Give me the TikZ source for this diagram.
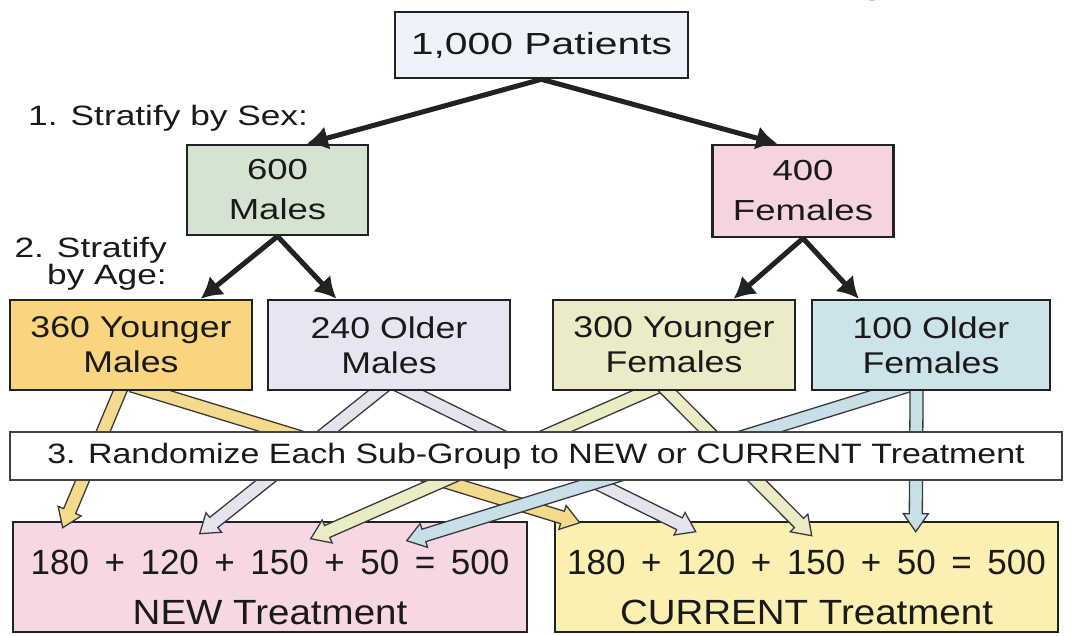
\documentclass[tikz,border=0pt]{standalone}
\usepackage{fontspec}
\setmainfont{Liberation Sans}
% widened faces for the box labels
\newfontfamily\fPat{Liberation Sans}[FakeStretch=1.34]
\newfontfamily\fSex{Liberation Sans}[FakeStretch=1.26]
\newfontfamily\fAge{Liberation Sans}[FakeStretch=1.19]
\newfontfamily\fRand{Liberation Sans}[FakeStretch=1.21]
\newfontfamily\fSum{Liberation Sans}[WordSpace=1.6]
\newfontfamily\fArm{Liberation Sans}[FakeStretch=1.1]
\usetikzlibrary{arrows.meta,calc}
\pgfdeclarelayer{back}
\pgfdeclarelayer{mid}
\pgfsetlayers{back,mid,main}

\definecolor{patfill}{HTML}{EEF3FA}
\definecolor{malefill}{HTML}{D5E4D0}
\definecolor{femfill}{HTML}{F5D4DF}
\definecolor{ymfill}{HTML}{F8D57E}
\definecolor{omfill}{HTML}{E6E6F2}
\definecolor{yffill}{HTML}{EBEBC8}
\definecolor{offill}{HTML}{CDE3EA}
\definecolor{newfill}{HTML}{F7D7E3}
\definecolor{curfill}{HTML}{FBF0B2}
\definecolor{edge}{HTML}{222222}
\definecolor{txt}{HTML}{1A1A1A}
\definecolor{ymarrow}{HTML}{F3DA8C}
\definecolor{omarrow}{HTML}{E4E4EE}
\definecolor{yfarrow}{HTML}{EBEBC5}
\definecolor{ofarrow}{HTML}{C8DFE8}
\definecolor{arrowedge}{HTML}{3A3A3A}

% broad outlined arrow: fill colour, start coordinate, tip coordinate
\newcommand\broadarrow[3]{%
  \path ($(#2)!-20pt!(#3)$) coordinate (ba-s) (#3) coordinate (ba-t);
  \path ($(ba-t)!18pt!(ba-s)$) coordinate (ba-b);
  \filldraw[fill=#1, draw=arrowedge, line width=1.3pt, line join=miter]
    ($(ba-s)!6.5pt!90:(ba-t)$) -- ($(ba-b)!6.5pt!-90:(ba-s)$)
    -- ($(ba-b)!12.5pt!-90:(ba-s)$) -- (ba-t)
    -- ($(ba-b)!12.5pt!90:(ba-s)$) -- ($(ba-b)!6.5pt!90:(ba-s)$)
    -- ($(ba-s)!6.5pt!-90:(ba-t)$) -- cycle;
}

\tikzset{
  box/.style={draw=edge, line width=2.6pt, inner sep=0pt, align=center, text=txt},
  sexbox/.style={box, minimum width=181pt, minimum height=90pt,
    font=\fSex\fontsize{29}{40}\selectfont},
  agebox/.style={box, minimum width=242pt, minimum height=90pt,
    font=\fAge\fontsize{30}{35}\selectfont},
  armbox/.style={box, minimum height=110pt, font=\fArm\fontsize{35}{50}\selectfont},
  flow/.style={line width=5pt, draw=edge, -{Latex[length=21pt,width=24pt]}},
  lbl/.style={text=txt, inner sep=0pt, font=\fSex\fontsize{28}{21}\selectfont}
}

\begin{document}
\begin{tikzpicture}[x=1pt,y=-1pt]
\begin{pgfonlayer}{back}
\fill[white] (0,0) rectangle (1071,635);
\end{pgfonlayer}
\useasboundingbox (0,0) rectangle (1071,635);

% heading running off the top edge
\begin{scope}
  \clip (0,0) rectangle (1071,635);
  \node[font=\bfseries\fontsize{30}{30}\selectfont, anchor=base west, inner sep=0pt, text=txt]
    (heading) at (862,0.5) {STRATIFIED RANDOMIZATION};
\end{scope}

% step 1
\node[box, fill=patfill, minimum width=293pt, minimum height=66pt,
      font=\fPat\fontsize{30.5}{34}\selectfont] (pat) at (541.5,45) {1,000 Patients};
\node[lbl, anchor=base west] (sexlbl) at (28,125) {1. Stratify by Sex:};
\node[sexbox, fill=malefill] (males) at (277.5,190) {600\\Males};
\node[sexbox, fill=femfill, minimum height=92pt] (fem) at (803,191) {400\\Females};

% step 2
\node[lbl, align=right, anchor=north east] (agelbl) at (167,237) {2. Stratify\\by Age:};
\node[agebox, fill=ymfill] (ym) at (131,345) {360 Younger\\Males};
\node[agebox, fill=omfill] (om) at (389,345) {240 Older\\Males};
\node[agebox, fill=yffill] (yf) at (674,345) {300 Younger\\Females};
\node[agebox, fill=offill, minimum width=238pt] (of) at (931,345) {100 Older\\Females};

% step 3
\node[box, draw=edge!85, line width=2pt, fill=white, minimum width=1052pt, minimum height=48pt,
      font=\fRand\fontsize{28}{30}\selectfont] (rand) at (536,456)
      {3. Randomize Each Sub-Group to NEW or CURRENT Treatment};

\begin{pgfonlayer}{back}
\node[armbox, fill=newfill, minimum width=514pt] (new) at (270,577)
  {\rule{0pt}{46pt}{\fSum 180 + 120 + 150 + 50 = 500}\\NEW Treatment};
\node[armbox, fill=curfill, minimum width=503pt] (cur) at (806.5,577)
  {\rule{0pt}{46pt}{\fSum 180 + 120 + 150 + 50 = 500}\\CURRENT Treatment};
\end{pgfonlayer}

% stratification arrows
\draw[flow] (pat.south) -- ($(males.north west)!0.66!(males.north east)$);
\draw[flow] (pat.south) -- ($(fem.north west)!0.36!(fem.north east)$);
\draw[flow] (males.south) -- ($(ym.north west)!0.785!(ym.north east)$);
\draw[flow] (males.south) -- ($(om.north west)!0.285!(om.north east)$);
\draw[flow] (fem.south) -- ($(yf.north west)!0.744!(yf.north east)$);
\draw[flow] (fem.south) -- ($(of.north west)!0.2!(of.north east)$);

% randomisation arrows, passing behind the step-3 banner
\coordinate (ym-a) at ($(ym.south west)!0.455!(ym.south east)$);
\coordinate (ym-b) at ($(ym.south west)!0.58!(ym.south east)$);
\coordinate (om-a) at ($(om.south west)!0.455!(om.south east)$);
\coordinate (om-b) at ($(om.south west)!0.587!(om.south east)$);
\coordinate (yf-a) at ($(yf.south west)!0.39!(yf.south east)$);
\coordinate (yf-b) at ($(yf.south west)!0.475!(yf.south east)$);
\coordinate (of-a) at ($(of.south west)!0.33!(of.south east)$);
\coordinate (of-b) at ($(of.south west)!0.44!(of.south east)$);

\coordinate (new-1) at ([xshift=51pt,yshift=-7pt]new.north west);
\coordinate (new-2) at ([xshift=188pt,yshift=-13pt]new.north west);
\coordinate (new-3) at ([xshift=299pt,yshift=-18pt]new.north west);
\coordinate (new-4) at ([xshift=395pt,yshift=-20pt]new.north west);
\coordinate (cur-1) at ([xshift=26pt,yshift=-2pt]cur.north west);
\coordinate (cur-2) at ([xshift=142pt,yshift=-11pt]cur.north west);
\coordinate (cur-3) at ([xshift=258pt,yshift=-15pt]cur.north west);
\coordinate (cur-4) at ([xshift=362pt,yshift=-11pt]cur.north west);

\begin{pgfonlayer}{mid}
\broadarrow{ymarrow}{ym-a}{new-1}
\broadarrow{ymarrow}{ym-b}{cur-1}
\broadarrow{omarrow}{om-a}{new-2}
\broadarrow{omarrow}{om-b}{cur-2}
\broadarrow{yfarrow}{yf-a}{new-3}
\broadarrow{yfarrow}{yf-b}{cur-3}
\broadarrow{ofarrow}{of-a}{new-4}
\broadarrow{ofarrow}{of-b}{cur-4}
\end{pgfonlayer}
\end{tikzpicture}
\end{document}
